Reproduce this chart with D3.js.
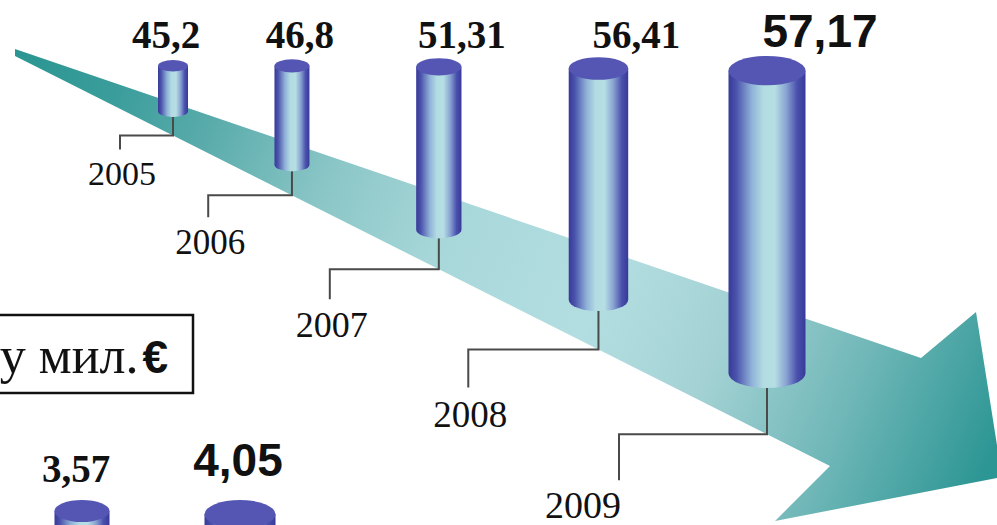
<!DOCTYPE html>
<html>
<head>
<meta charset="utf-8">
<script src="https://cdn.jsdelivr.net/npm/d3@7"></script>
<style>
  html, body { margin: 0; padding: 0; background: #fff; overflow: hidden; }
</style>
</head>
<body>
<div id="canvas"></div>
<script>
// Data
const years = ['2005', '2006', '2007', '2008', '2009'];
const values = [45.2, 46.8, 51.31, 56.41, 57.17];
const smallValues = [3.57, 4.05];
const unitLabel = 'у мил.';
const currencySign = '€';

const width = 997;
const height = 525;

const svg = d3.select('#canvas')
  .append('svg')
  .attr('width', width)
  .attr('height', height);

// numbers with a decimal comma, "45,2" and not "45,20"
const fmt = d3.formatLocale({ decimal: ',', thousands: '.', grouping: [3], currency: ['', '€'] })
  .format('.2~f');

const defs = svg.append('defs');

// teal gradient along the big arrow
const arrowGrad = defs.append('linearGradient')
  .attr('id', 'arrowGrad')
  .attr('gradientUnits', 'userSpaceOnUse')
  .attr('x1', 15).attr('y1', 52)
  .attr('x2', 990).attr('y2', 460);
[[0, '#2a9592'], [0.1, '#3a9d9b'], [0.2, '#5aacab'], [0.32, '#8bc6c7'], [0.45, '#a9d8da'],
 [0.6, '#b3dee1'], [0.72, '#a4d2d4'], [0.85, '#72b8b9'], [1, '#2c9694']]
  .forEach(s => arrowGrad.append('stop').attr('offset', s[0]).attr('stop-color', s[1]));

// shaded side of a cylinder
const cylGrad = defs.append('linearGradient').attr('id', 'cylGrad');
[[0, '#383a98'], [0.1, '#4a52ab'], [0.3, '#8fb1d8'], [0.45, '#b2dbe2'], [0.6, '#b6dfe4'],
 [0.75, '#89a3d2'], [0.89, '#4a51ac'], [1, '#37399a']]
  .forEach(s => cylGrad.append('stop').attr('offset', s[0]).attr('stop-color', s[1]));

// The arrow the cylinders stand on
const arrowPts = [[15, 49], [921, 358], [976, 312], [1002, 477], [775, 521], [830, 466], [15, 56]];
svg.append('path')
  .attr('d', d3.line()(arrowPts) + 'Z')
  .attr('fill', 'url(#arrowGrad)');

// Layout scales (perspective: things grow toward the arrow head)
const n = years.length;
const x = d3.scalePow().exponent(1.16).domain([0, n - 1]).range([173, 767]);
const radius = d3.scalePow().exponent(1.62).domain([0, n - 1]).range([15, 38.5]);
const ground = d3.scaleLinear().domain([173, 767]).range([117, 388]);
const capTop = d3.scaleLinear().domain([173, 767]).range([60, 56]);
const shaftBottom = d3.scaleLinear().domain([15, 830]).range([56, 466]);
const leaderX = d3.scalePow().exponent(1.25).domain([0, n - 1]).range([120, 619]);
const leaderDrop = d3.scaleLinear().domain([0, n - 1]).range([14, 46]);
const yearSize = d3.scaleLinear().domain([0, n - 1]).range([34, 38]);
const valueShift = d3.scaleLinear().domain([0, n - 1]).range([-7, 53]);

const cyl = values.map((v, i) => {
  const cx = x(i);
  const rx = radius(i);
  const ry = rx * 0.38;
  return { v, i, year: years[i], cx, rx, ry, top: capTop(cx) + ry, bot: ground(cx) - ry };
});

function bodyPath(d) {
  return `M${d.cx - d.rx},${d.top} L${d.cx - d.rx},${d.bot} ` +
    `A${d.rx},${d.ry} 0 0 0 ${d.cx + d.rx},${d.bot} L${d.cx + d.rx},${d.top} Z`;
}

// leader lines from each cylinder down to its year
svg.append('g').selectAll('path')
  .data(cyl)
  .enter()
  .append('path')
  .attr('d', d => {
    const y0 = shaftBottom(d.cx);
    return `M${d.cx},${d.bot + d.ry} V${y0} H${leaderX(d.i)} V${y0 + leaderDrop(d.i)}`;
  })
  .attr('fill', 'none')
  .attr('stroke', '#4a4a4a')
  .attr('stroke-width', 2);

svg.append('g').selectAll('text')
  .data(cyl)
  .enter()
  .append('text')
  .attr('x', d => leaderX(d.i) + 2)
  .attr('y', d => shaftBottom(d.cx) + leaderDrop(d.i) + yearSize(d.i) + (d.i === n - 1 ? 0 : 2))
  .attr('text-anchor', d => d.i === n - 1 ? 'end' : 'middle')
  .style('font-family', '"Liberation Serif", serif')
  .style('font-size', d => yearSize(d.i) + 'px')
  .style('fill', '#111')
  .text(d => d.year);

// cylinders
const cg = svg.append('g').selectAll('g')
  .data(cyl)
  .enter()
  .append('g');

cg.append('path')
  .attr('d', bodyPath)
  .attr('fill', 'url(#cylGrad)');

cg.append('ellipse')
  .attr('cx', d => d.cx)
  .attr('cy', d => d.top)
  .attr('rx', d => d.rx)
  .attr('ry', d => d.ry)
  .attr('fill', '#5556b4');

// value labels, the last one emphasised in a bold sans
svg.append('g').selectAll('text')
  .data(cyl)
  .enter()
  .append('text')
  .attr('x', d => d.cx + valueShift(d.i))
  .attr('y', d => d.i === n - 1 ? 47 : 48)
  .attr('text-anchor', 'middle')
  .style('font-family', d => d.i === n - 1 ? '"Liberation Sans", sans-serif' : '"Liberation Serif", serif')
  .style('font-weight', 'bold')
  .style('font-size', d => d.i === n - 1 ? '46px' : '39px')
  .style('fill', '#111')
  .text(d => fmt(d.v));

// unit box, cut by the left edge
svg.append('rect')
  .attr('x', -5)
  .attr('y', 315)
  .attr('width', 198)
  .attr('height', 78)
  .attr('fill', '#fff')
  .attr('stroke', '#111')
  .attr('stroke-width', 2.5);

const unit = svg.append('text')
  .attr('x', 168)
  .attr('y', 373)
  .attr('text-anchor', 'end')
  .style('fill', '#111');
unit.append('tspan')
  .style('font-family', '"Liberation Serif", serif')
  .style('font-size', '52px')
  .text(unitLabel);
unit.append('tspan')
  .attr('dx', 4)
  .style('font-family', '"Liberation Sans", sans-serif')
  .style('font-weight', 'bold')
  .style('font-size', '46px')
  .text(currencySign);

// second, smaller series at the bottom (cut by the page edge)
const m = smallValues.length;
const xs = d3.scaleLinear().domain([0, m - 1]).range([82, 240]);
const rs = d3.scaleLinear().domain([0, m - 1]).range([27.5, 35.5]);
const small = smallValues.map((v, i) => {
  const rx = rs(i);
  const ry = rx * 0.4;
  return { v, i, cx: xs(i), rx, ry, top: 500 + ry, bot: 600 };
});

const sg = svg.append('g').selectAll('g')
  .data(small)
  .enter()
  .append('g');

sg.append('path')
  .attr('d', bodyPath)
  .attr('fill', 'url(#cylGrad)');

sg.append('ellipse')
  .attr('cx', d => d.cx)
  .attr('cy', d => d.top)
  .attr('rx', d => d.rx)
  .attr('ry', d => d.ry)
  .attr('fill', '#5556b4');

sg.append('text')
  .attr('x', d => d.cx + (d.i === m - 1 ? -2 : -6))
  .attr('y', d => d.i === m - 1 ? 476 : 482)
  .attr('text-anchor', 'middle')
  .style('font-family', d => d.i === m - 1 ? '"Liberation Sans", sans-serif' : '"Liberation Serif", serif')
  .style('font-weight', 'bold')
  .style('font-size', d => d.i === m - 1 ? '46px' : '39px')
  .style('fill', '#111')
  .text(d => fmt(d.v));
</script>
</body>
</html>
